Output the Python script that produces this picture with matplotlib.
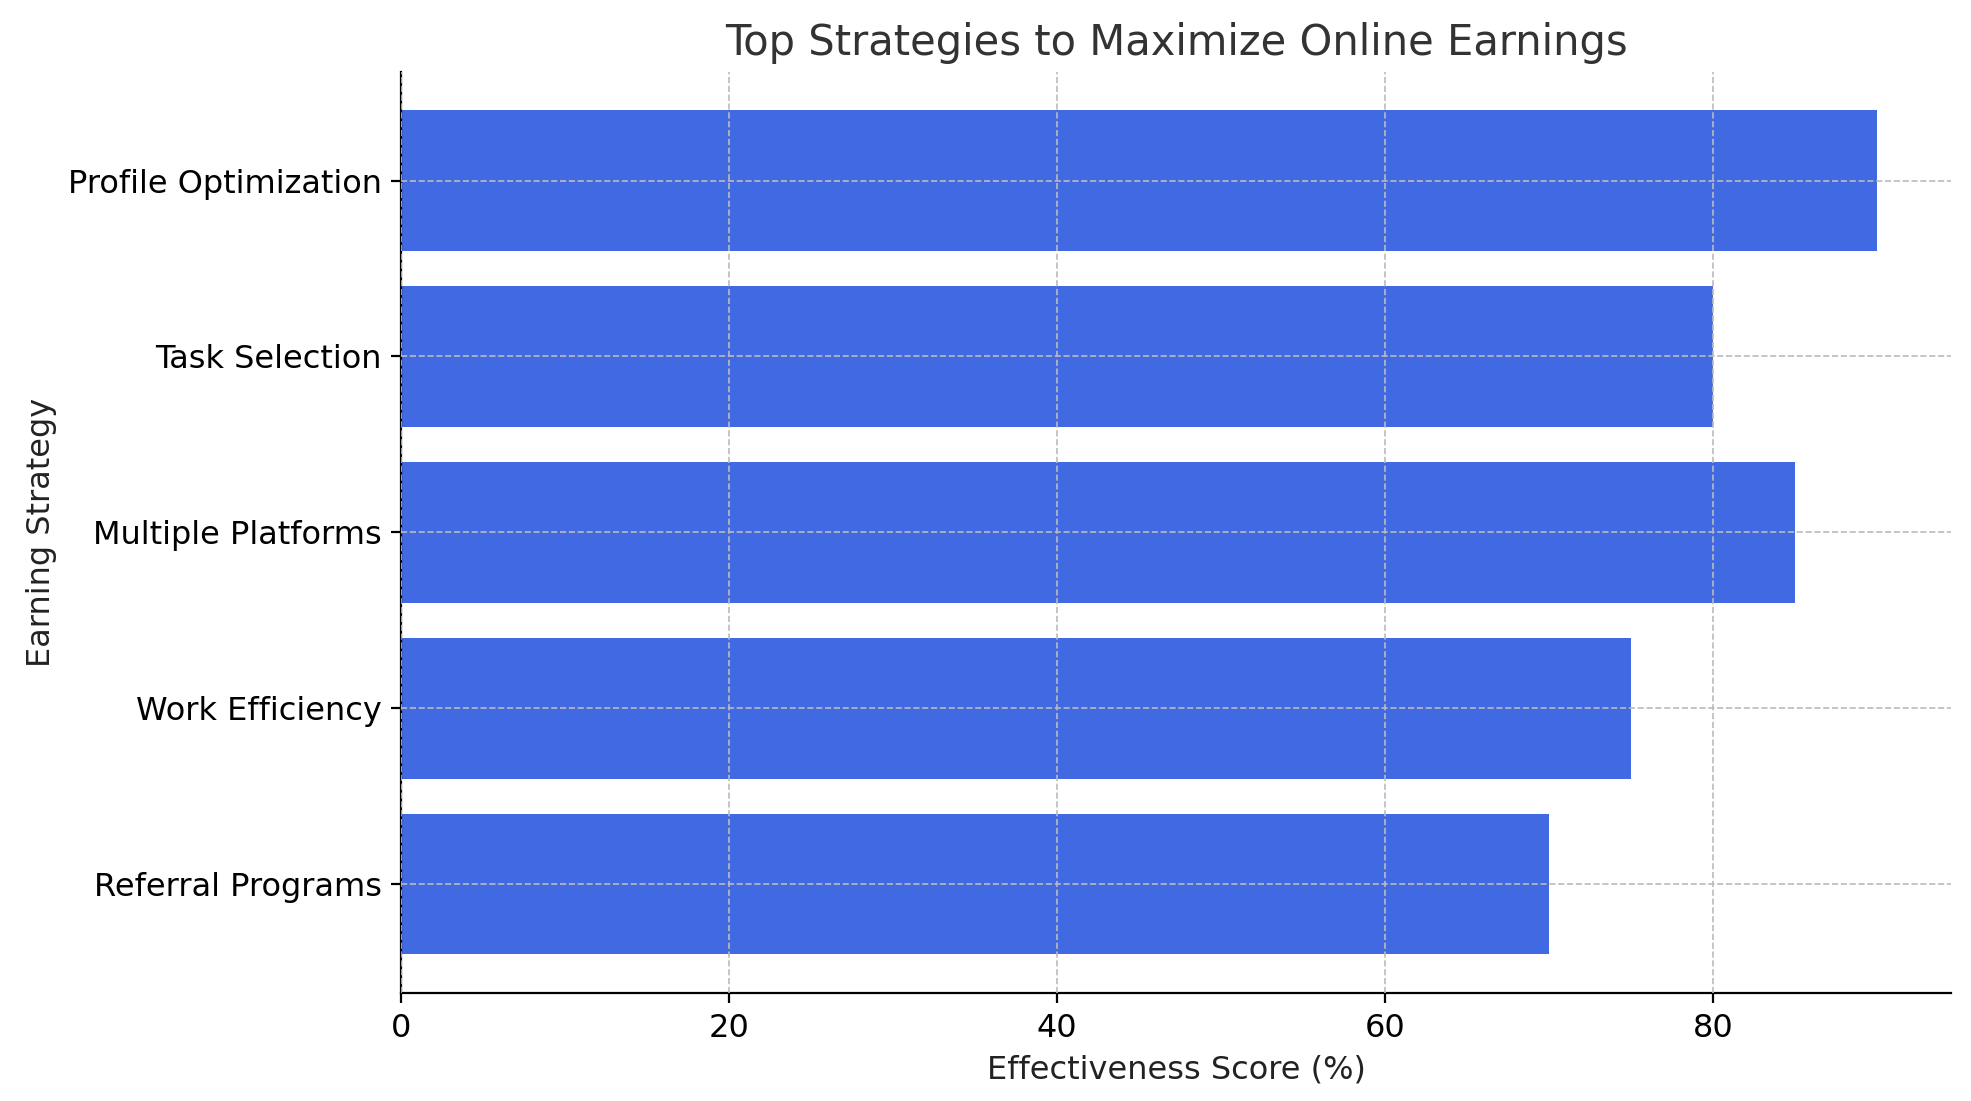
import matplotlib
matplotlib.use("Agg")
import matplotlib.pyplot as plt

strategies = ["Profile Optimization", "Task Selection", "Multiple Platforms", "Work Efficiency", "Referral Programs"]
scores = [90, 80, 85, 75, 70]

fig = plt.figure(figsize=(9.855, 5.505), dpi=200)
ax = fig.add_axes([0.2035, 0.098, 0.7865, 0.837])
ax.barh(strategies[::-1], scores[::-1], color="royalblue", height=0.8)
ax.set_xlim(0, 94.5)
ax.set_ylim(-0.62, 4.62)
ax.set_title("Top Strategies to Maximize Online Earnings", fontsize=15, color="#333333")
ax.set_xlabel("Effectiveness Score (%)", fontsize=11.5, color="#222222")
ax.set_ylabel("Earning Strategy", fontsize=11.5, color="#222222")
ax.tick_params(labelsize=11.5)
ax.grid(True, linestyle="--", color="#bbbbbb", linewidth=0.6)
ax.set_axisbelow(False)
for s in ["top", "right"]:
    ax.spines[s].set_visible(False)
fig.savefig("out.png", dpi=200)
